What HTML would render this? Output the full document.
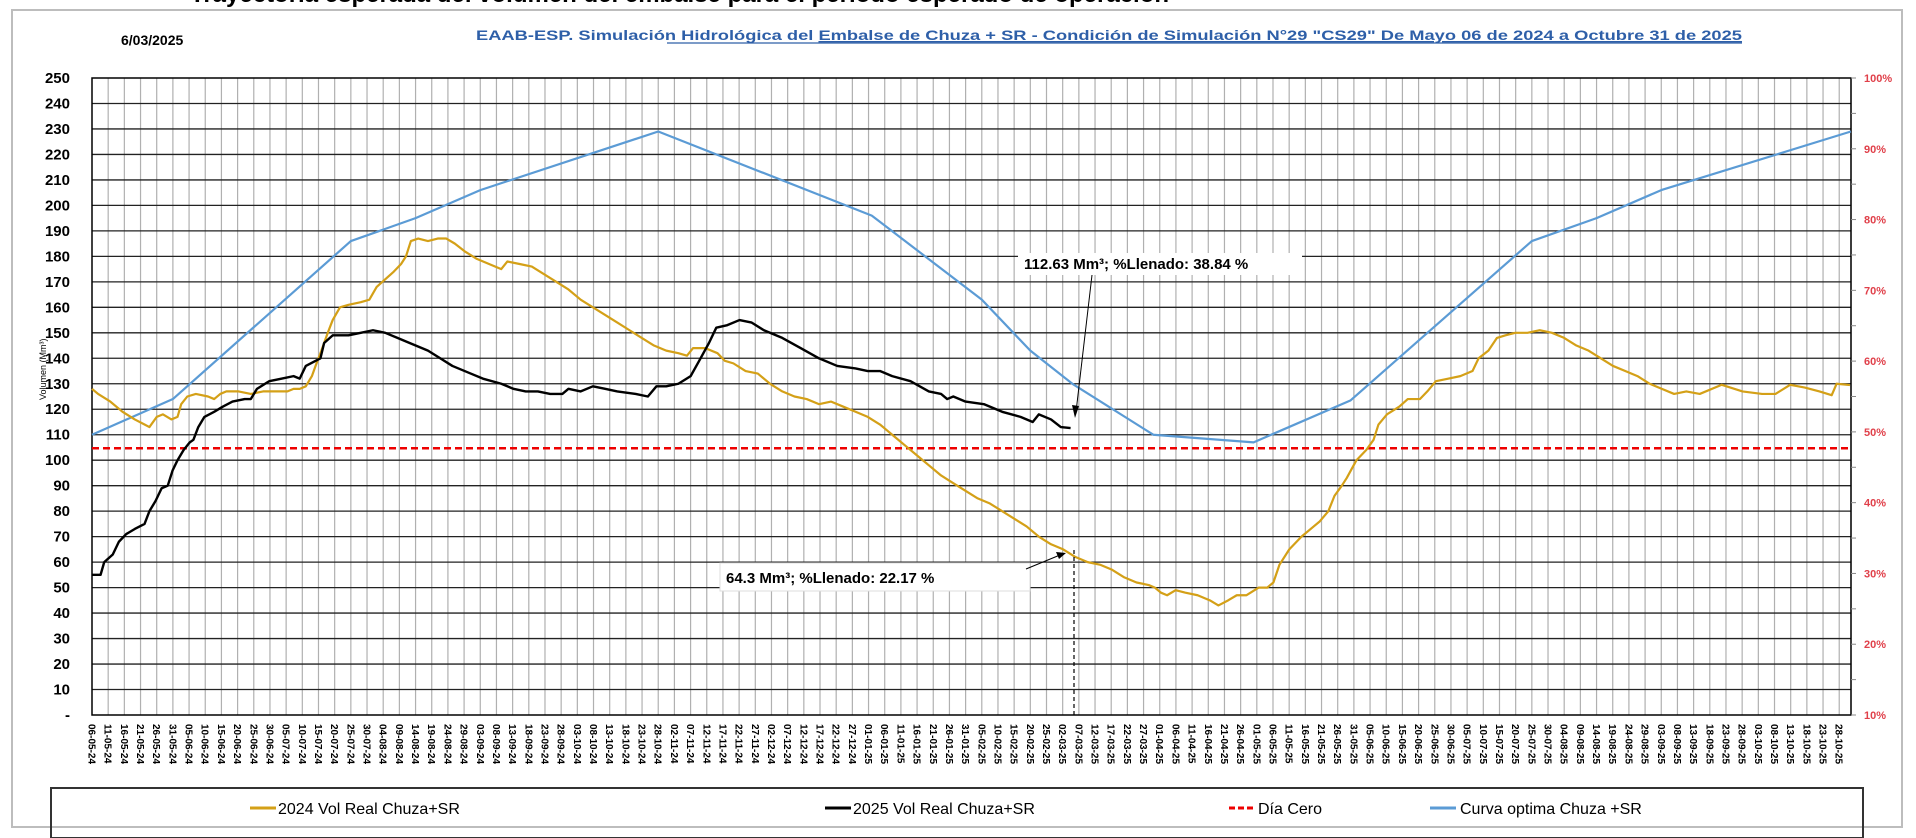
<!DOCTYPE html>
<html><head><meta charset="utf-8">
<style>
body{margin:0;width:1916px;height:838px;overflow:hidden;background:#fff;font-family:"Liberation Sans",Arial,sans-serif;}
svg{position:absolute;left:0;top:0}
</style></head><body>
<svg id="s" width="1916" height="838" xmlns="http://www.w3.org/2000/svg" font-family="Liberation Sans, Arial, sans-serif">
<text x="190" y="2" font-size="24" font-weight="bold" fill="#000">Trayectoria esperada del volumen del embalse para el periodo esperado de operación</text>
<rect x="12" y="10" width="1890" height="817" fill="#fff" stroke="#bdbdbd" stroke-width="2"/>
<text x="121" y="45" font-size="14" font-weight="bold">6/03/2025</text>
<text x="476" y="40" font-size="14" font-weight="bold" fill="#2e5fa8" textLength="1266" lengthAdjust="spacingAndGlyphs">EAAB-ESP. Simulación Hidrológica del <tspan text-decoration="underline">Embalse de Chuza + SR - Condición de Simulación N°29 "CS29"  De Mayo 06 de 2024 a Octubre  31 de 2025</tspan></text>
<line x1="667" y1="43" x2="1742" y2="43" stroke="#2e5fa8" stroke-width="1.2"/>
<g id="grid"></g>
<g id="series"></g>
<g id="ann"></g>
<rect x="51" y="788" width="1812" height="50" fill="none" stroke="#333" stroke-width="2"/>
<line x1="250" y1="808" x2="276" y2="808" stroke="#d4a017" stroke-width="3"/>
<text x="278" y="814" font-size="16">2024 Vol Real Chuza+SR</text>
<line x1="825" y1="808" x2="851" y2="808" stroke="#000" stroke-width="3"/>
<text x="853" y="814" font-size="16">2025 Vol Real Chuza+SR</text>
<line x1="1229" y1="808" x2="1255" y2="808" stroke="#e00" stroke-width="3" stroke-dasharray="6,3"/>
<text x="1258" y="814" font-size="16">Día Cero</text>
<line x1="1430" y1="808" x2="1456" y2="808" stroke="#5b9bd5" stroke-width="3"/>
<text x="1460" y="814" font-size="16">Curva optima Chuza +SR</text>
</svg>
<script>
const NS="http://www.w3.org/2000/svg";
function el(p,t,a,txt){const e=document.createElementNS(NS,t);for(const k in a)e.setAttribute(k,a[k]);if(txt!=null)e.textContent=txt;p.appendChild(e);return e;}
const L=92,R=1851,T=78,B=715;
const X=d=>L+d*3.2356, Y=v=>B-v*2.548, XE=x=>92+(x-75)*1.2217;
const g=document.getElementById('grid');
const start=new Date(2024,4,6);
for(let i=0;i<=108;i++){const x=X(i*5);
 if(i>0) el(g,'line',{x1:x,y1:T,x2:x,y2:B,stroke:'#b0b0b0','stroke-width':1.2});
 const dt=new Date(start.getTime()+i*5*86400000);
 const s=String(dt.getDate()).padStart(2,'0')+'-'+String(dt.getMonth()+1).padStart(2,'0')+'-'+String(dt.getFullYear()%100);
 el(g,'text',{x:0,y:0,'font-size':10,'font-weight':'bold',transform:`translate(${x-3.5},724) rotate(90)`},s);
}
el(g,'line',{x1:R,y1:T,x2:R,y2:B,stroke:'#b0b0b0','stroke-width':1.2});
for(let v=10;v<=240;v+=10) el(g,'line',{x1:L,y1:Y(v),x2:R,y2:Y(v),stroke:'#222','stroke-width':1.3});
el(g,'rect',{x:L,y:T,width:R-L,height:B-T,fill:'none',stroke:'#000','stroke-width':1.5});
for(let v=0;v<=250;v+=10) el(g,'text',{x:70,y:Y(v)+5,'font-size':15,'font-weight':'bold','text-anchor':'end'},v==0?'-':String(v));
el(g,'text',{x:0,y:0,'font-size':9,transform:'translate(46,400) rotate(-90)'},'Volumen (Mm³)');
for(let p=10;p<=100;p+=5){const y=B-(p-10)/90*(B-T);
 el(g,'line',{x1:R,y1:y,x2:R+5,y2:y,stroke:'#888'});
 if(p%10==0) el(g,'text',{x:1864,y:y+4,'font-size':11,'font-weight':'bold',fill:'#e0404a'},p+'%');}
const s=document.getElementById('series');
function poly(pts,col,w,dash){el(s,'polyline',{points:pts.map(p=>p.join(',')).join(' '),fill:'none',stroke:col,'stroke-width':w,'stroke-linejoin':'round','stroke-dasharray':dash||'none'});}
const blue=[[0,110],[25,124],[80,186],[100,195],[120,206],[175,229],[241,196],[275,163],[290,143],[303,130],[328,110],[359,107],[389,123.5],[445,186],[465,195],[485,206],[543.6,229]];
poly(blue.map(p=>[X(p[0]),Y(p[1])]),'#5b9bd5',2.2);
poly([[L,Y(104.7)],[R,Y(104.7)]],'#e00',2.5,'7,4');
const gold=[[75,128],[80,126],[90,123],[100,119],[110,116],[118,114],[122,113],[128,117],[133,118],[140,116],[145,117],[148,122],[153,125],[160,126],[170,125],[175,124],[180,126],[185,127],[195,127],[205,126],[215,127],[225,127],[235,127],[240,128],[245,128],[250,129],[255,133],[258,137],[262,142],[268,150],[272,155],[278,160],[285,161],[295,162],[302,163],[308,168],[315,171],[322,174],[328,177],[332,180],[336,186],[342,187],[350,186],[358,187],[365,187],[372,185],[380,182],[390,179],[400,177],[410,175],[415,178],[425,177],[435,176],[445,173],[455,170],[465,167],[475,163],[485,160],[495,157],[505,154],[515,151],[525,148],[535,145],[545,143],[555,142],[562,141],[567,144],[577,144],[587,142],[593,139],[600,138],[610,135],[620,134],[630,130],[640,127],[650,125],[660,124],[670,122],[680,123],[690,121],[700,119],[710,117],[720,114],[730,110],[740,106],[750,102],[760,98],[770,94],[780,91],[790,88],[800,85],[810,83],[820,80],[830,77],[840,74],[850,70],[860,67],[870,65],[880,62],[890,60],[900,59],[910,57],[920,54],[930,52],[940,51],[945,50],[950,48],[955,47],[962,49],[970,48],[980,47],[990,45],[997,43],[1005,45],[1012,47],[1020,47],[1030,50],[1037,50],[1042,52],[1047,59],[1055,65],[1065,70],[1075,74],[1080,76],[1087,80],[1092,86],[1098,90],[1102,93],[1110,100],[1118,104],[1124,108],[1128,114],[1135,118],[1145,121],[1152,124],[1162,124],[1168,127],[1175,131],[1185,132],[1195,133],[1205,135],[1210,140],[1218,143],[1225,148],[1232,149],[1240,150],[1250,150],[1260,151],[1270,150],[1280,148],[1290,145],[1300,143],[1310,140],[1320,137],[1330,135],[1340,133],[1350,130],[1360,128],[1370,126],[1380,127],[1391,134],[1409,129.6],[1426,127],[1442,126],[1453,126],[1465,129.6],[1477,128.5],[1489,127],[1499,125.5],[1503,130],[1514,129.5]];
gold.splice(gold.findIndex(p=>p[0]==1391),1,[1391,126]);
poly(gold.map(p=>[Math.min(XE(p[0]),R-1),Y(p[1])]),'#d4a017',2.2);
const black=[[75,55],[82,55],[85,60],[92,63],[97,68],[103,71],[110,73],[118,75],[122,80],[127,84],[132,89],[137,90],[141,96],[145,100],[150,104],[155,107],[158,108],[162,113],[167,117],[175,119],[182,121],[190,123],[200,124],[205,124],[210,128],[220,131],[230,132],[240,133],[245,132],[250,137],[262,140],[265,146],[272,149],[285,149],[295,150],[305,151],[315,150],[325,148],[335,146],[350,143],[360,140],[370,137],[385,134],[395,132],[410,130],[420,128],[430,127],[440,127],[450,126],[460,126],[465,128],[475,127],[485,129],[495,128],[505,127],[520,126],[530,125],[537,129],[545,129],[555,130],[565,133],[572,139],[580,146],[586,152],[595,153],[605,155],[615,154],[625,151],[640,148],[655,144],[670,140],[685,137],[700,136],[710,135],[720,135],[730,133],[745,131],[760,127],[770,126],[775,124],[780,125],[790,123],[805,122],[820,119],[835,117],[845,115],[850,118],[860,116],[868,113],[876,112.6]];
poly(black.map(p=>[XE(p[0]),Y(p[1])]),'#000',2.4);
const a=document.getElementById('ann');
el(a,'rect',{x:1018,y:253,width:284,height:22,fill:'#fff'});
el(a,'text',{x:1024,y:269,'font-size':15,'font-weight':'bold'},'112.63 Mm³; %Llenado: 38.84 %');
el(a,'line',{x1:1092,y1:275,x2:1076,y2:412,stroke:'#000','stroke-width':1});
el(a,'polygon',{points:'1075,418 1072,405 1079,406',fill:'#000'});
el(a,'rect',{x:720,y:563,width:310,height:28,fill:'#fff',stroke:'#ddd'});
el(a,'text',{x:726,y:583,'font-size':15,'font-weight':'bold'},'64.3 Mm³; %Llenado: 22.17 %');
el(a,'line',{x1:1026,y1:569,x2:1060,y2:555,stroke:'#000','stroke-width':1});
el(a,'polygon',{points:'1066,553 1056,552 1059,559',fill:'#000'});
el(a,'line',{x1:1074,y1:550,x2:1074,y2:715,stroke:'#000','stroke-width':1.2,'stroke-dasharray':'4,3'});
</script>
</body></html>
